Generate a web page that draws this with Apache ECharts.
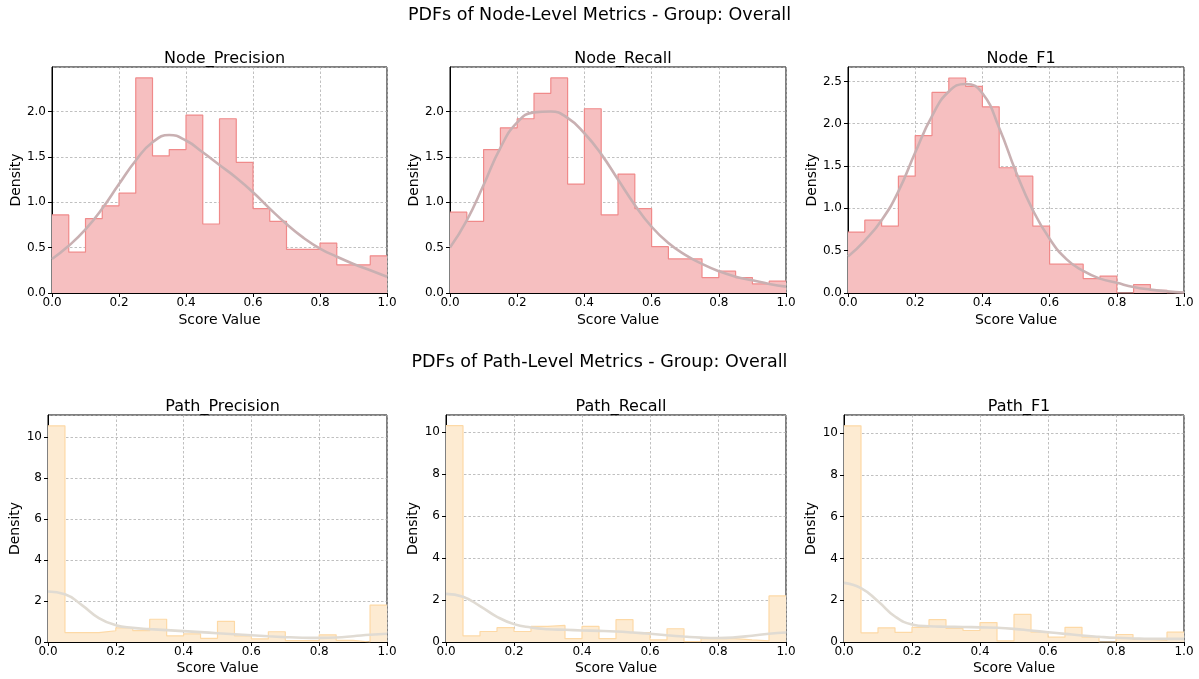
<!DOCTYPE html>
<html>
<head>
<meta charset="utf-8">
<script src="https://cdn.jsdelivr.net/npm/echarts@6/dist/echarts.min.js"></script>
<style>
html,body{margin:0;padding:0;background:#fff;}
#chart{width:1199px;height:679px;}
</style>
</head>
<body>
<div id="chart"></div>
<script>
// ---------- data ----------
const binStarts = [0.00,0.05,0.10,0.15,0.20,0.25,0.30,0.35,0.40,0.45,0.50,0.55,0.60,0.65,0.70,0.75,0.80,0.85,0.90,0.95];
const binEnd = 1.0;
const kdeX = [0.00,0.05,0.10,0.15,0.20,0.25,0.30,0.35,0.40,0.45,0.50,0.55,0.60,0.65,0.70,0.75,0.80,0.85,0.90,0.95,1.00];
const xTicks = ['0.0','0.2','0.4','0.6','0.8','1.0'];

const nodePrecisionBins = [0.86,0.45,0.82,0.96,1.10,2.37,1.51,1.58,1.96,0.76,1.92,1.44,0.93,0.79,0.48,0.48,0.55,0.31,0.31,0.41];
const nodePrecisionKde  = [0.375,0.52,0.70,0.93,1.20,1.46,1.66,1.74,1.68,1.55,1.41,1.27,1.11,0.93,0.76,0.61,0.49,0.40,0.32,0.25,0.18];

const nodeRecallBins = [0.89,0.79,1.58,1.82,1.92,2.20,2.37,1.20,2.03,0.86,1.31,0.93,0.51,0.375,0.375,0.17,0.24,0.17,0.10,0.13];
const nodeRecallKde  = [0.50,0.80,1.19,1.60,1.88,1.99,2.00,1.93,1.76,1.53,1.25,0.97,0.73,0.55,0.42,0.32,0.24,0.18,0.14,0.10,0.07];

const nodeF1Bins = [0.72,0.86,0.79,1.38,1.86,2.37,2.54,2.44,2.20,1.48,1.38,0.79,0.34,0.34,0.17,0.20,0.00,0.10,0.03,0.00];
const nodeF1Kde  = [0.43,0.62,0.86,1.20,1.66,2.09,2.38,2.47,2.36,1.95,1.43,0.98,0.64,0.40,0.26,0.17,0.12,0.07,0.04,0.02,0.005];

const pathPrecisionBins = [10.54,0.46,0.46,0.55,0.69,0.55,1.11,0.30,0.40,0.18,1.01,0.30,0.15,0.50,0.07,0.07,0.35,0.08,0.00,1.80];
const pathPrecisionKde  = [2.46,2.33,1.80,1.17,0.82,0.69,0.63,0.58,0.53,0.48,0.43,0.38,0.33,0.28,0.24,0.21,0.20,0.22,0.28,0.35,0.40];

const pathRecallBins = [10.29,0.29,0.50,0.68,0.50,0.74,0.79,0.16,0.74,0.16,1.06,0.45,0.10,0.63,0.02,0.16,0.16,0.10,0.05,2.19];
const pathRecallKde  = [2.29,2.15,1.71,1.20,0.85,0.69,0.61,0.58,0.55,0.53,0.50,0.45,0.39,0.32,0.26,0.21,0.19,0.22,0.30,0.39,0.45];

const pathF1Bins = [10.34,0.44,0.68,0.46,0.70,1.07,0.65,0.55,0.93,0.05,1.32,0.47,0.23,0.70,0.23,0.00,0.36,0.12,0.08,0.47];
const pathF1Kde  = [2.83,2.58,1.95,1.22,0.84,0.75,0.73,0.72,0.70,0.68,0.63,0.55,0.47,0.39,0.31,0.25,0.20,0.17,0.15,0.15,0.15];

const suptitles = ['PDFs of Node-Level Metrics - Group: Overall','PDFs of Path-Level Metrics - Group: Overall'];

// ---------- layout / style ----------
const FONT = 'DejaVu Sans';
const styles = {
  node: {fill:'#f6bfc0', edge:'#f08a8a', kde:'#c9b0b2', yStep:0.5, dec:1},
  path: {fill:'#fdebd2', edge:'#fdd9a6', kde:'#e0dbd3', yStep:2, dec:0}
};
const panels = [
  {name:'Node_Precision', bins:nodePrecisionBins, kde:nodePrecisionKde, yMax:2.49, kind:'node', g:{left:52, top:67, width:335, height:226}, nameGap:26, xGap:20},
  {name:'Node_Recall',    bins:nodeRecallBins,    kde:nodeRecallKde,    yMax:2.49, kind:'node', g:{left:450, top:67, width:336, height:226}, nameGap:25, xGap:20},
  {name:'Node_F1',        bins:nodeF1Bins,        kde:nodeF1Kde,        yMax:2.67, kind:'node', g:{left:848, top:67, width:336, height:226}, nameGap:24, xGap:20},
  {name:'Path_Precision', bins:pathPrecisionBins, kde:pathPrecisionKde, yMax:11.07, kind:'path', g:{left:48, top:415, width:339, height:227}, nameGap:22, xGap:19},
  {name:'Path_Recall',    bins:pathRecallBins,    kde:pathRecallKde,    yMax:10.8, kind:'path', g:{left:446, top:415, width:340, height:227}, nameGap:21, xGap:19},
  {name:'Path_F1',        bins:pathF1Bins,        kde:pathF1Kde,        yMax:10.86, kind:'path', g:{left:844, top:415, width:340, height:227}, nameGap:20, xGap:19}
];

const grids = [], xAxes = [], yAxes = [], series = [], titles = [];
titles.push({text:suptitles[0], left:'center', top:1, textStyle:{fontFamily:FONT, fontSize:17.5, fontWeight:'normal', color:'#000'}});
titles.push({text:suptitles[1], left:'center', top:348, textStyle:{fontFamily:FONT, fontSize:17.5, fontWeight:'normal', color:'#000'}});

const gridLine = {show:true, lineStyle:{color:'#b0b0b0', type:[2.5,2], width:0.8}};

panels.forEach((p, i) => {
  const st = styles[p.kind];
  grids.push({left:p.g.left, top:p.g.top, width:p.g.width, height:p.g.height, show:true, borderColor:'#000', borderWidth:1, backgroundColor:'transparent', containLabel:false});
  titles.push({text:p.name, left:p.g.left + p.g.width/2, textAlign:'center', top:p.g.top - 21,
    textStyle:{fontFamily:FONT, fontSize:16, fontWeight:'normal', color:'#000'}});
  xAxes.push({type:'value', gridIndex:i, min:0, max:1, interval:0.2,
    name:'Score Value', nameLocation:'middle', nameGap:p.xGap,
    nameTextStyle:{fontFamily:FONT, fontSize:14, color:'#000'},
    axisLine:{show:true, onZero:false, lineStyle:{color:'#000', width:1}},
    axisTick:{show:true, inside:false, length:4, lineStyle:{color:'#000'}},
    axisLabel:{fontFamily:FONT, fontSize:12, color:'#000', margin:4,
      formatter: v => { const k = Math.round(v/0.2); return Math.abs(v - k*0.2) < 1e-6 ? xTicks[k] : ''; }},
    splitLine:gridLine});
  yAxes.push({type:'value', gridIndex:i, min:0, max:p.yMax, interval:st.yStep,
    name:'Density', nameLocation:'middle', nameGap:p.nameGap,
    nameTextStyle:{fontFamily:FONT, fontSize:14, color:'#000'},
    axisLine:{show:true, onZero:false, lineStyle:{color:'#000', width:1}},
    axisTick:{show:true, inside:false, length:4, lineStyle:{color:'#000'}},
    axisLabel:{fontFamily:FONT, fontSize:12, color:'#000', margin:6, showMaxLabel:false,
      formatter: v => { const k = Math.round(v/st.yStep); return Math.abs(v - k*st.yStep) < 1e-6 ? v.toFixed(st.dec) : ''; }},
    splitLine:gridLine});
  const stepData = binStarts.map((x, j) => [x, p.bins[j]]).concat([[binEnd, p.bins[p.bins.length-1]]]);
  series.push({type:'line', xAxisIndex:i, yAxisIndex:i, data:stepData, step:'end', symbol:'none',
    lineStyle:{color:st.edge, width:1.2}, areaStyle:{color:st.fill, opacity:1, origin:'start'}, z:2, silent:true, animation:false});
  series.push({type:'line', xAxisIndex:i, yAxisIndex:i, data:kdeX.map((x, j) => [x, p.kde[j]]), smooth:true, symbol:'none',
    lineStyle:{color:st.kde, width:2.6}, z:3, silent:true, animation:false});
});

const chart = echarts.init(document.getElementById('chart'), null, {renderer:'canvas'});
chart.setOption({backgroundColor:'#fff', animation:false, title:titles, grid:grids, xAxis:xAxes, yAxis:yAxes, series:series});
</script>
</body>
</html>
